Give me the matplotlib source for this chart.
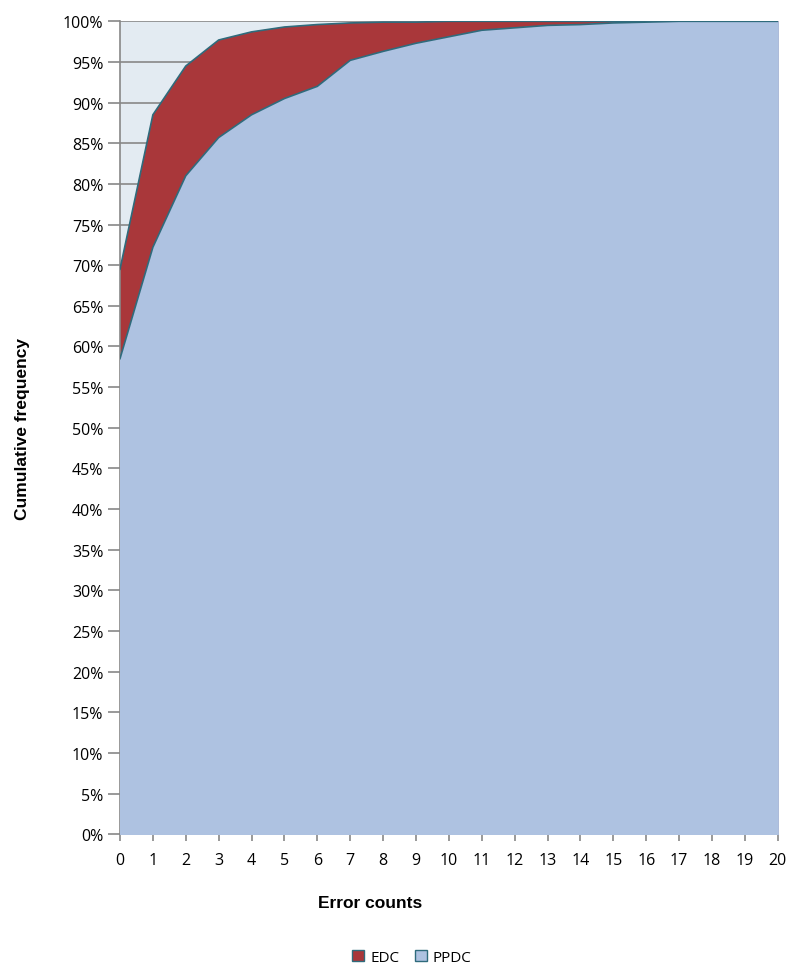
import numpy as np
import matplotlib.pyplot as plt
from matplotlib.patches import Patch

# cumulative frequency (%) by error count
error_counts = list(range(21))
edc = [69.5, 88.5, 94.5, 97.7, 98.7, 99.3, 99.6, 99.8, 99.9, 99.9, 100,
       100, 100, 100, 100, 100, 100, 100, 100, 100, 100]
ppdc = [58.5, 72.2, 81.0, 85.7, 88.5, 90.5, 92.0, 95.2, 96.3, 97.3, 98.1,
        98.9, 99.2, 99.5, 99.6, 99.8, 99.9, 100, 100, 100, 100]
y_ticks = list(range(0, 101, 5))

edc_color = '#A9373A'
ppdc_color = '#AEC2E1'
edge_color = '#2F6B7C'

plt.rcParams['font.family'] = ['Open Sans', 'DejaVu Sans']

fig = plt.figure(figsize=(7.92, 9.70), dpi=100)
ax = fig.add_axes([0.1515, 0.139, 0.8305, 0.838])
ax.set_facecolor('#E3EBF2')

ax.fill_between(error_counts, 0, edc, color=edc_color, zorder=2)
ax.plot(error_counts, edc, color=edge_color, lw=1.2, zorder=3)
ax.fill_between(error_counts, 0, ppdc, color=ppdc_color, zorder=4)
ax.plot(error_counts, ppdc, color=edge_color, lw=1.2, zorder=5)

ax.set_xlim(0, 20)
ax.set_ylim(0, 100)
ax.set_xticks(error_counts)
ax.set_yticks(y_ticks)
ax.set_yticklabels(['{}%'.format(v) for v in y_ticks])
ax.grid(axis='y', color='#888888', lw=1.2, zorder=1)
ax.set_axisbelow(True)

for side in ['top', 'right']:
    ax.spines[side].set_visible(False)
for side in ['left', 'bottom']:
    ax.spines[side].set_color('#888888')
    ax.spines[side].set_linewidth(1.2)

ax.tick_params(axis='y', length=9, width=1.2, color='#888888', labelsize=11.5, pad=3)
ax.tick_params(axis='x', length=5, width=1.2, color='#888888', labelsize=11.5, pad=8)

ax.set_ylabel('Cumulative frequency', fontsize=12.5, fontweight='bold',
              family=['Liberation Sans', 'DejaVu Sans'])
ax.yaxis.set_label_coords(-0.137, 0.5)
fig.text(0.467, 0.069, 'Error counts', ha='center', va='center', fontsize=12.5,
         fontweight='bold', family=['Liberation Sans', 'DejaVu Sans'])

handles = [Patch(facecolor=edc_color, edgecolor=edge_color, label='EDC'),
           Patch(facecolor=ppdc_color, edgecolor=edge_color, label='PPDC')]
fig.legend(handles=handles, loc='center', bbox_to_anchor=(0.52, 0.012), ncol=2,
           frameon=False, fontsize=11, handlelength=0.8, handleheight=0.8,
           handletextpad=0.4, columnspacing=1.0)

fig.savefig('out.png', dpi=100)
